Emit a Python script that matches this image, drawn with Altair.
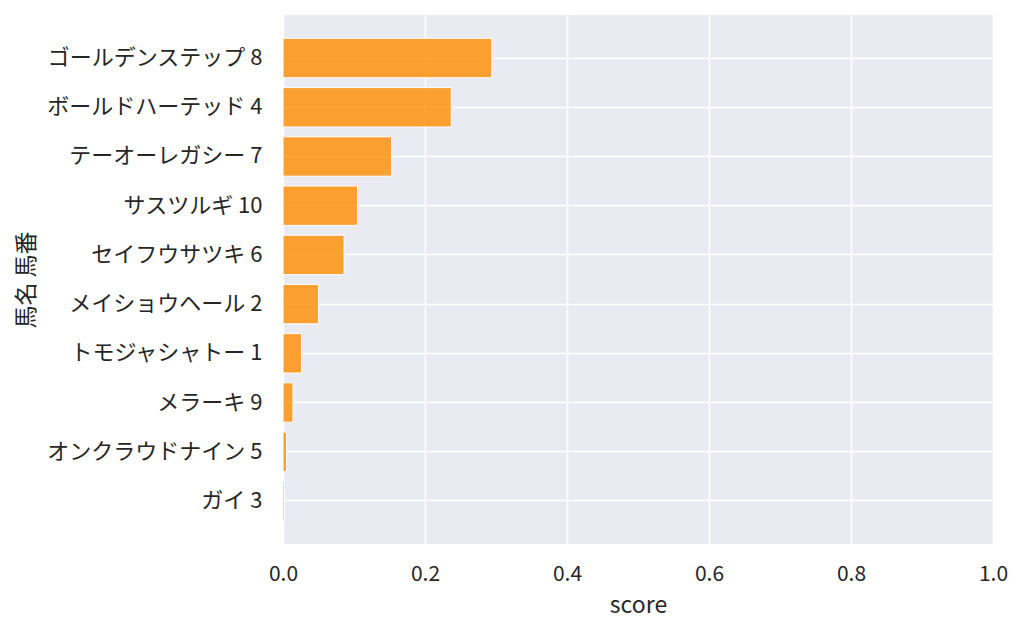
import altair as alt
import pandas as pd

horses = ["ゴールデンステップ 8", "ボールドハーテッド 4", "テーオーレガシー 7", "サスツルギ 10",
          "セイフウサツキ 6", "メイショウヘール 2", "トモジャシャトー 1", "メラーキ 9",
          "オンクラウドナイン 5", "ガイ 3"]
scores = [0.294, 0.237, 0.153, 0.105, 0.086, 0.050, 0.026, 0.014, 0.005, 0.002]
x_ticks = [0.0, 0.2, 0.4, 0.6, 0.8, 1.0]

df = pd.DataFrame({"horse": horses, "score": scores})

FONT = "Noto Sans CJK JP"
TXT = "#262626"

chart = alt.Chart(df).mark_bar(
    color="#FF8C00", fillOpacity=0.8, stroke="white", strokeWidth=1
).encode(
    x=alt.X("score:Q", title="score",
            scale=alt.Scale(domain=[0, 1], nice=False, zero=True),
            axis=alt.Axis(values=x_ticks, format=".1f", grid=True, gridColor="white",
                          gridWidth=1.6, domain=False, ticks=False, labelPadding=19,
                          labelFontSize=21, labelColor=TXT, labelFont=FONT,
                          titleFontSize=23, titleColor=TXT, titleFont=FONT,
                          titleFontWeight="normal", titlePadding=10,
                          labelFlush=False)),
    y=alt.Y("horse:N", title="馬名 馬番", sort=horses,
            scale=alt.Scale(paddingInner=0.2, paddingOuter=0.475),
            axis=alt.Axis(grid=True, gridColor="white", gridWidth=1.6, bandPosition=0.5,
                          domain=False, ticks=False, labelPadding=21, labelLimit=400,
                          labelFontSize=22, labelColor=TXT, labelFont=FONT,
                          titleFontSize=23, titleColor=TXT, titleFont=FONT,
                          titleFontWeight="normal", titleX=-245))
).properties(
    width=710, height=529,
    autosize=alt.AutoSizeParams(type="none"),
    padding={"left": 275, "top": 7, "right": 23, "bottom": 82},
    background="white"
).configure_view(
    fill="#EAEAF2", stroke=None
).configure_axis(
    labelFontWeight="normal"
)

chart.save("out.html", embed_options={"renderer": "svg", "actions": False})
